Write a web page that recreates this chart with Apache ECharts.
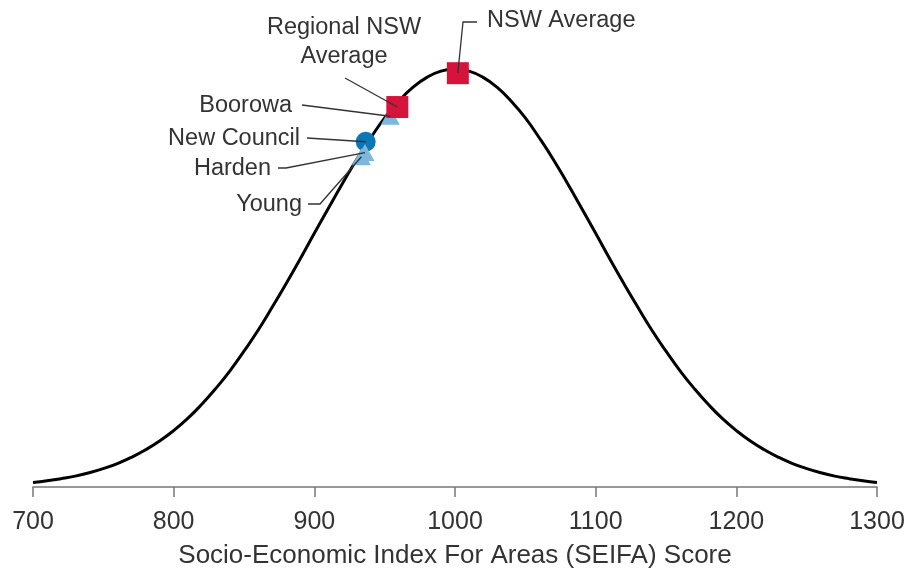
<!DOCTYPE html>
<html><head><meta charset="utf-8">
<script src="https://cdn.jsdelivr.net/npm/echarts@6/dist/echarts.min.js"></script>
<style>html,body{margin:0;padding:0;background:#fff}#c{width:908px;height:574px}</style>
</head><body><div id="c"></div>
<script>
// Distribution curve (relative height, peak = 100)
const curveX = [700,710,720,730,740,750,760,770,780,790,800,810,820,830,840,850,860,870,880,890,900,910,920,930,940,950,960,970,980,990,1000,
  1010,1020,1030,1040,1050,1060,1070,1080,1090,1100,1110,1120,1130,1140,1150,1160,1170,1180,1190,1200,1210,1220,1230,1240,1250,1260,1270,1280,1290,1300];
const curveY = [1.1,1.5,2.0,2.6,3.4,4.4,5.6,7.1,8.9,11.0,13.5,16.4,19.8,23.6,27.8,32.5,37.5,43.0,48.7,54.6,60.7,66.7,72.6,78.3,83.5,88.3,92.3,95.6,98.0,99.5,100,
  99.5,98.0,95.6,92.3,88.3,83.5,78.3,72.6,66.7,60.7,54.6,48.7,43.0,37.5,32.5,27.8,23.6,19.8,16.4,13.5,11.0,8.9,7.1,5.6,4.4,3.4,2.6,2.0,1.5,1.1];
const xTicks = [700,800,900,1000,1100,1200,1300];

// Marked areas (drawing order: bottom to top)
const markerNames = ['New Council','Young','Harden','Boorowa','Regional NSW Average','NSW Average'];
const markerX = [936.5, 933.5, 936, 954, 959, 1002];
const markerY = [82.6, 79.0, 80.0, 88.7, 90.9, 99.0];
const markerKinds = ['circle','triangle','triangle','triangle','square','square'];

const styles = {
  circle:   {symbol:'circle', size:20, color:'#0b77b6'},
  triangle: {symbol:'triangle', size:[19,17], color:'#7db8dc'},
  square:   {symbol:'rect', size:22, color:'#d6143b'}
};

// Annotation layout (pixels)
const labelLayout = {
  'NSW Average': {x:487, y:20.5, align:'left', via:[[477,22],[463,22]]},
  'Regional NSW Average': {x:344, y:42.5, align:'center', text:'Regional NSW\nAverage', via:[[345,78]]},
  'Boorowa': {x:292, y:105.5, align:'right', via:[[302,105]]},
  'New Council': {x:300, y:139, align:'right', via:[[307,138]]},
  'Harden': {x:271, y:168.5, align:'right', via:[[278,168],[286,168]]},
  'Young': {x:302, y:204.5, align:'right', via:[[308,204],[320,204]]}
};

const FONT = '"Liberation Sans", Arial, sans-serif';
const chart = echarts.init(document.getElementById('c'), null, {renderer:'canvas'});

const series = [{
  type:'line',
  data: curveX.map((x,i)=>[x, curveY[i]]),
  smooth: true,
  showSymbol: false,
  lineStyle: {color:'#000', width:3},
  silent: true,
  z: 2
}];
markerNames.forEach((n,i)=>{
  const s = styles[markerKinds[i]];
  series.push({
    type:'scatter',
    name:n,
    data:[[markerX[i], markerY[i]]],
    symbol:s.symbol,
    symbolSize:s.size,
    itemStyle:{color:s.color, opacity:1},
    z:3+i
  });
});

chart.setOption({
  animation:false,
  grid:{left:33, right:31, top:69, bottom:86, containLabel:false},
  xAxis:{
    type:'value', min:700, max:1300, interval:100,
    name:'Socio-Economic Index For Areas (SEIFA) Score',
    nameLocation:'middle', nameGap:56,
    nameTextStyle:{fontFamily:FONT, fontSize:26, color:'#333'},
    axisLine:{show:true, lineStyle:{color:'#777', width:1.5}},
    axisTick:{show:true, length:10, lineStyle:{color:'#777', width:1.5}},
    axisLabel:{fontFamily:FONT, fontSize:25, color:'#333', margin:23,
      formatter:(v)=> xTicks.indexOf(v) >= 0 ? String(v) : ''},
    splitLine:{show:false}
  },
  yAxis:{type:'value', min:0, max:100, show:false, splitLine:{show:false}},
  series: series
});

const graphics = [];
markerNames.forEach((n,i)=>{
  const L = labelLayout[n];
  const p = chart.convertToPixel({seriesIndex:i+1}, [markerX[i], markerY[i]]);
  graphics.push({
    type:'polyline', z:100, silent:true,
    shape:{points: L.via.concat([p])},
    style:{stroke:'#333', lineWidth:1.3, fill:null}
  });
  graphics.push({
    type:'text', z:101, silent:true,
    style:{text: L.text || n, x:L.x, y:L.y, fill:'#333',
      font:'23.5px ' + FONT, fontSize:23.5, fontFamily:FONT,
      align:L.align, textAlign:L.align, verticalAlign:'middle', textVerticalAlign:'middle',
      lineHeight:29}
  });
});
chart.setOption({graphic:graphics});
</script>
</body></html>
